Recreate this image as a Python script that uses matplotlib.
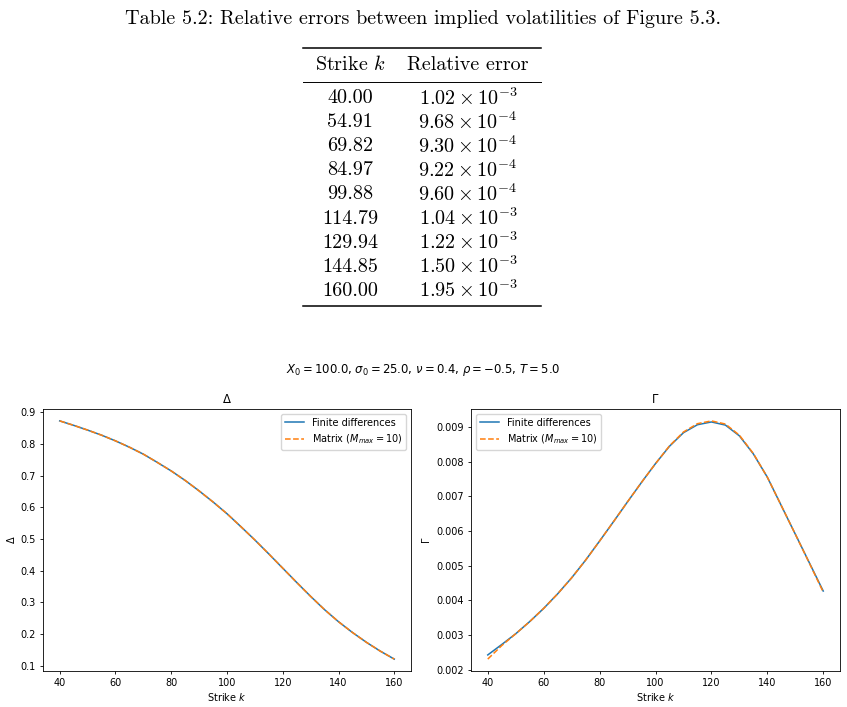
import matplotlib.pyplot as plt
from matplotlib.lines import Line2D

# table 5.2 data
table_strikes = ["40.00", "54.91", "69.82", "84.97", "99.88", "114.79", "129.94", "144.85", "160.00"]
err_mantissa = ["1.02", "9.68", "9.30", "9.22", "9.60", "1.04", "1.22", "1.50", "1.95"]
err_exponent = [-3, -4, -4, -4, -4, -3, -3, -3, -3]

# greeks
strikes = [40, 45, 50, 55, 60, 65, 70, 75, 80, 85, 90, 95, 100,
           105, 110, 115, 120, 125, 130, 135, 140, 145, 150, 155, 160]
delta_fd = [0.873, 0.859, 0.844, 0.828, 0.810, 0.790, 0.768, 0.742, 0.715, 0.685, 0.652, 0.617, 0.580,
            0.539, 0.497, 0.453, 0.408, 0.363, 0.319, 0.277, 0.239, 0.205, 0.174, 0.146, 0.121]
delta_matrix = [0.873, 0.859, 0.844, 0.828, 0.810, 0.790, 0.768, 0.742, 0.715, 0.685, 0.652, 0.617, 0.580,
                0.539, 0.497, 0.453, 0.408, 0.363, 0.319, 0.277, 0.239, 0.205, 0.174, 0.146, 0.121]
gamma_fd = [0.00243, 0.00273, 0.00304, 0.00339, 0.00377, 0.00419, 0.00465, 0.00516, 0.00571, 0.00627,
            0.00684, 0.00740, 0.00794, 0.00844, 0.00883, 0.00906, 0.00914, 0.00905, 0.00874, 0.00822,
            0.00755, 0.00673, 0.00591, 0.00509, 0.00427]
gamma_matrix = [0.00231, 0.00270, 0.00304, 0.00339, 0.00377, 0.00419, 0.00465, 0.00516, 0.00571, 0.00627,
                0.00684, 0.00740, 0.00794, 0.00845, 0.00885, 0.00909, 0.00917, 0.00908, 0.00876, 0.00823,
                0.00755, 0.00673, 0.00591, 0.00508, 0.00424]

W, H = 847, 707
fig = plt.figure(figsize=(W / 100, H / 100), dpi=100)


def fy(py):
    return 1 - py / H


# ---- table ----
fig.text(423 / W, fy(19), "Table 5.2: Relative errors between implied volatilities of Figure 5.3.",
         family="cmr10", fontsize=14.5, ha="center", va="center")

x0, x1 = 303 / W, 541 / W
fig.add_artist(Line2D([x0, x1], [fy(47.5), fy(47.5)], color="black", lw=1.1))
fig.add_artist(Line2D([x0, x1], [fy(81.5), fy(81.5)], color="black", lw=0.7))
fig.add_artist(Line2D([x0, x1], [fy(306), fy(306)], color="black", lw=1.1))

c1, c2 = 350 / W, 468 / W
fig.text(c1, fy(65), "Strike $k$", family="cmr10", math_fontfamily="cm",
         fontsize=14.5, ha="center", va="center")
fig.text(c2, fy(65), "Relative error", family="cmr10", fontsize=14.5, ha="center", va="center")
for i, (s, m, e) in enumerate(zip(table_strikes, err_mantissa, err_exponent)):
    y = fy(98.3 + i * 24.05)
    fig.text(c1, y, s, family="cmr10", fontsize=14.5, ha="center", va="center")
    fig.text(c2, y, r"$%s\times10^{%d}$" % (m, e), math_fontfamily="cm",
             fontsize=14.5, ha="center", va="center")

# ---- plots ----
fig.text(423 / W, fy(370), r"$X_0 = 100.0$, $\sigma_0 = 25.0$, $\nu = 0.4$, $\rho = -0.5$, $T = 5.0$",
         fontsize=8.4, ha="center", va="center")

ax1 = fig.add_axes([43 / W, fy(671), 368 / W, 262 / H])
ax2 = fig.add_axes([471 / W, fy(671), 369 / W, 262 / H])

for ax, fd, mat, name, loc in [(ax1, delta_fd, delta_matrix, r"$\Delta$", "upper right"),
                                (ax2, gamma_fd, gamma_matrix, r"$\Gamma$", "upper left")]:
    ax.plot(strikes, fd, color="#1f77b4", lw=1.1, label="Finite differences")
    ax.plot(strikes, mat, color="#ff7f0e", lw=1.1, ls="--", label=r"Matrix ($M_{max} = 10$)")
    ax.set_title(name, fontsize=8.4, pad=4)
    ax.set_xlabel("Strike $k$", fontsize=7, labelpad=2.5)
    ax.set_ylabel(name, fontsize=7, labelpad=3)
    ax.tick_params(labelsize=7, length=2.5, width=0.6, pad=2.5)
    for sp in ax.spines.values():
        sp.set_linewidth(0.6)
    ax.legend(loc=loc, fontsize=7)
    ax.set_xticks([40, 60, 80, 100, 120, 140, 160])

fig.savefig("out.png", dpi=100)
